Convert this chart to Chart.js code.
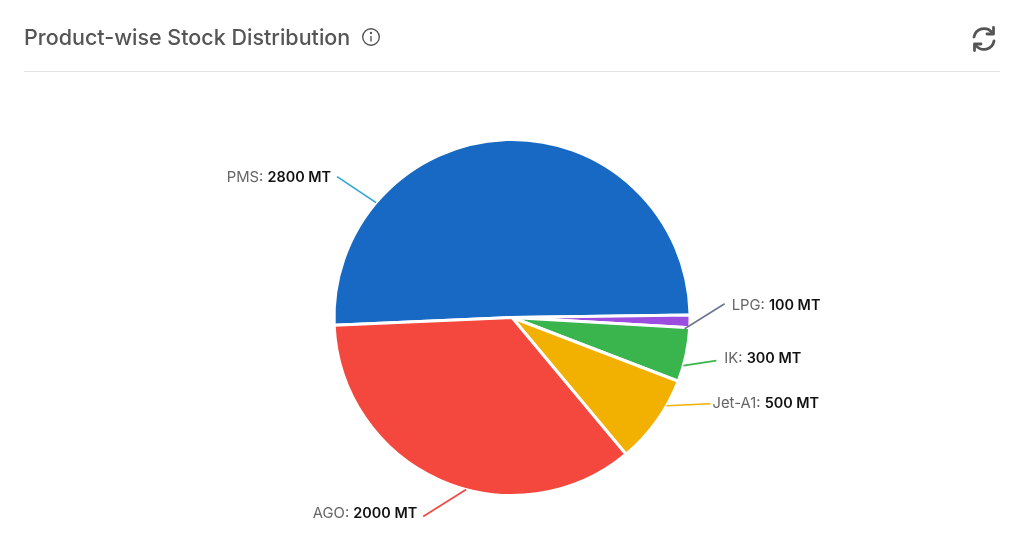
<!DOCTYPE html>
<html>
<head>
<meta charset="utf-8">
<title>Product-wise Stock Distribution</title>
<script src="https://cdn.jsdelivr.net/npm/chart.js@4/dist/chart.umd.min.js"></script>
<style>
  html, body { margin: 0; padding: 0; background: #fff; overflow: hidden; }
  body { width: 1024px; height: 546px; position: relative; font-family: Inter, sans-serif; }
  .title { position: absolute; left: 24px; top: 23px; font-size: 21.5px; line-height: 28px; font-weight: 500; color: #555; white-space: nowrap; }
  .info { position: absolute; left: 361px; top: 27px; }
  .refresh { position: absolute; left: 970px; top: 25px; }
  .rule { position: absolute; left: 24px; top: 71px; width: 976px; height: 1px; background: #e2e2e2; }
  #stockChart { position: absolute; left: 0; top: 0; }
</style>
</head>
<body>
<canvas id="stockChart" width="1024" height="546"></canvas>
<div class="title">Product-wise Stock Distribution</div>
<div class="rule"></div>
<svg class="info" width="20" height="20" viewBox="0 0 20 20" fill="none" stroke="#555" stroke-width="1.4">
  <circle cx="10" cy="10" r="8.3"/>
  <line x1="10" y1="9" x2="10" y2="14.5"/>
  <circle cx="10" cy="6" r="0.5" fill="#555"/>
</svg>
<svg class="refresh" width="28" height="28" viewBox="0 0 28 28" fill="none" stroke="#555" stroke-width="2.8" stroke-linecap="round" stroke-linejoin="round">
  <path d="M4 12 A10.2 10.2 0 0 1 22 7.5"/>
  <path d="M23.5 2.5 V9 H17"/>
  <path d="M24 16 A10.2 10.2 0 0 1 6 20.5"/>
  <path d="M4.5 25.5 V19 H11"/>
</svg>
<script>
const categories = ['PMS', 'LPG', 'IK', 'Jet-A1', 'AGO'];
// slice sizes, the printed labels are rounded
const sliceValues = [2877, 65, 280, 462, 2016];
const printedValues = ['2800 MT', '100 MT', '300 MT', '500 MT', '2000 MT'];
const sliceColors = ['#1769c4', '#9b4de0', '#3ab54e', '#f2b100', '#f4473e'];
const lineColors = ['#2ba4dc', '#6d7590', '#3ab54e', '#f2b100', '#f4473e'];

// where each callout leaves its slice and how far the line runs
const callouts = [
    { along: 0.235, inset: 0, dx: -39, dy: -26, gap: 6, textDy: 1 },
    { along: 1.1, inset: 5, dx: 40, dy: -25, gap: 7, textDy: 2 },
    { along: 0.7, inset: 0, dx: 33, dy: -5, gap: 8, textDy: -2 },
    { along: 0.3, inset: 0, dx: 44, dy: -2, gap: 2, textDy: 0 },
    { along: 0.43, inset: 0, dx: -43, dy: 27, gap: 6, textDy: -3 }
];

const calloutPlugin = {
    id: 'callouts',
    afterDraw(chart) {
        const ctx = chart.ctx;
        const arcs = chart.getDatasetMeta(0).data;
        arcs.forEach((arc, i) => {
            const c = callouts[i];
            const angle = arc.startAngle + (arc.endAngle - arc.startAngle) * c.along;
            const r = arc.outerRadius - c.inset;
            const x0 = arc.x + Math.cos(angle) * r;
            const y0 = arc.y + Math.sin(angle) * r;
            const x1 = x0 + c.dx;
            const y1 = y0 + c.dy;

            ctx.save();
            ctx.strokeStyle = lineColors[i];
            ctx.lineWidth = 1.6;
            ctx.beginPath();
            ctx.moveTo(x0, y0);
            ctx.lineTo(x1, y1);
            ctx.stroke();

            const nameText = categories[i] + ': ';
            const valueText = printedValues[i];
            const nameFont = '400 14.8px Inter, sans-serif';
            const valueFont = '600 14.4px Inter, sans-serif';
            ctx.font = nameFont;
            const nameWidth = ctx.measureText(nameText).width;
            ctx.font = valueFont;
            const valueWidth = ctx.measureText(valueText).width;
            const left = c.dx < 0 ? x1 - c.gap - nameWidth - valueWidth : x1 + c.gap;
            const y = y1 + c.textDy;

            ctx.textBaseline = 'middle';
            ctx.textAlign = 'left';
            ctx.font = nameFont;
            ctx.fillStyle = '#666';
            ctx.fillText(nameText, left, y);
            ctx.font = valueFont;
            ctx.fillStyle = '#111';
            ctx.fillText(valueText, left + nameWidth, y);
            ctx.restore();
        });
    }
};

new Chart(document.getElementById('stockChart'), {
    type: 'pie',
    data: {
        labels: categories,
        datasets: [{
            data: sliceValues,
            backgroundColor: sliceColors,
            borderColor: '#fff',
            borderWidth: 3
        }]
    },
    options: {
        responsive: false,
        animation: false,
        rotation: 267.5,
        layout: { padding: { top: 138, bottom: 49 } },
        plugins: {
            legend: { display: false },
            tooltip: { enabled: false }
        }
    },
    plugins: [calloutPlugin]
});
</script>
</body>
</html>
